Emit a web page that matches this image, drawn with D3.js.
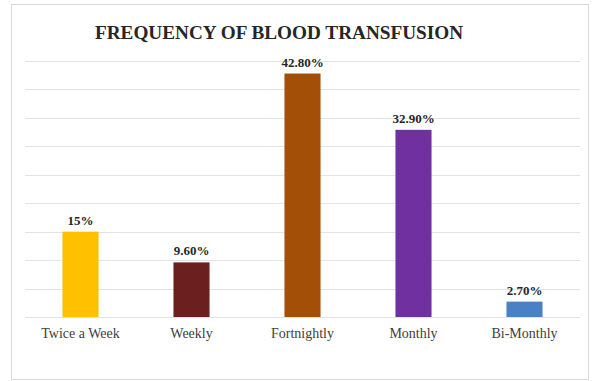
<!DOCTYPE html>
<html>
<head>
<meta charset="utf-8">
<script src="https://cdn.jsdelivr.net/npm/d3@7"></script>
<style>
  html, body { margin: 0; padding: 0; background: #fff; }
  svg { display: block; }
  text { font-family: "Liberation Serif", "Times New Roman", serif; }
</style>
</head>
<body>
<svg id="chart" width="592" height="381"></svg>
<script>
const title = "FREQUENCY OF BLOOD TRANSFUSION";
const categories = ["Twice a Week", "Weekly", "Fortnightly", "Monthly", "Bi-Monthly"];
const values = [15, 9.6, 42.8, 32.9, 2.7];
const valueLabels = ["15%", "9.60%", "42.80%", "32.90%", "2.70%"];
const colors = ["#FFC000", "#6B1F1F", "#A34F08", "#7030A0", "#4A80C4"];
const gridTicks = [0, 5, 10, 15, 20, 25, 30, 35, 40, 45];

const serif = "'Liberation Serif', 'Times New Roman', serif";
const svg = d3.select("#chart");

// outer border
svg.append("rect")
  .attr("x", 11.5).attr("y", 4.5)
  .attr("width", 577).attr("height", 375)
  .attr("fill", "#fff").attr("stroke", "#d9d9d9").attr("stroke-width", 1);

const x = d3.scaleBand().domain(categories).range([25, 580])
  .paddingInner(0.675).paddingOuter(0.3375);
const y = d3.scaleLinear().domain([0, 45]).range([317, 61]);

// gridlines
svg.append("g").selectAll("line").data(gridTicks).join("line")
  .attr("x1", 25).attr("x2", 580)
  .attr("y1", d => Math.round(y(d)) + 0.5).attr("y2", d => Math.round(y(d)) + 0.5)
  .attr("stroke", "#e3e3e3").attr("stroke-width", 1);

// title
svg.append("text")
  .attr("x", 279).attr("y", 39)
  .attr("text-anchor", "middle")
  .style("font-family", serif)
  .attr("font-weight", "bold").attr("font-size", 18)
  .attr("textLength", 368).attr("lengthAdjust", "spacingAndGlyphs")
  .attr("fill", "#262626")
  .text(title);

const data = categories.map((c, i) => ({c, v: values[i], l: valueLabels[i], col: colors[i]}));

// bars
svg.append("g").selectAll("rect").data(data).join("rect")
  .attr("x", d => x(d.c))
  .attr("y", d => y(d.v))
  .attr("width", x.bandwidth())
  .attr("height", d => y(0) - y(d.v))
  .attr("fill", d => d.col);

// value labels
svg.append("g").selectAll("text").data(data).join("text")
  .attr("x", d => x(d.c) + x.bandwidth() / 2)
  .attr("y", d => y(d.v) - 7)
  .attr("text-anchor", "middle")
  .style("font-family", serif)
  .attr("font-weight", "bold").attr("font-size", 13)
  .attr("fill", "#262626")
  .text(d => d.l);

// x axis labels
const xAxis = d3.axisBottom(x).tickSize(0).tickPadding(0);
const gx = svg.append("g").attr("transform", `translate(0,${y(0)})`).call(xAxis);
gx.select(".domain").remove();
gx.attr("font-family", null).attr("font-size", null);
gx.selectAll("text")
  .attr("dy", null)
  .attr("y", 21)
  .style("font-family", serif)
  .style("font-size", "14px")
  .attr("fill", "#404040");
</script>
</body>
</html>
